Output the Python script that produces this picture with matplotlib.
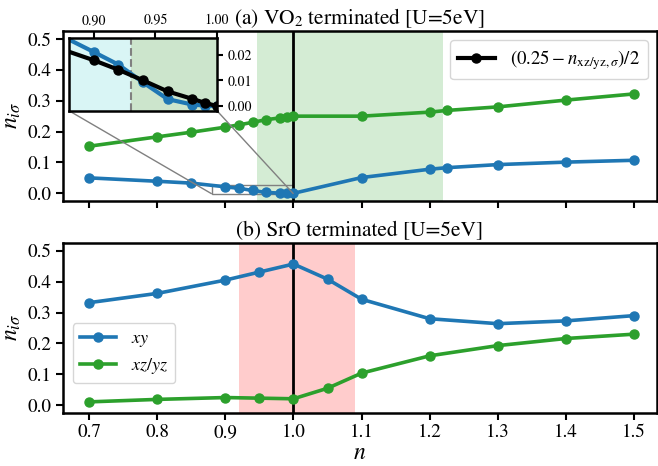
import numpy as np
import matplotlib
matplotlib.use("Agg")
import matplotlib.pyplot as plt
from matplotlib.ticker import FormatStrFormatter
from mpl_toolkits.axes_grid1.inset_locator import mark_inset

plt.rcParams['font.family'] = 'STIXGeneral'
plt.rcParams['mathtext.fontset'] = 'stix'

BLUE = "#1f77b4"
GREEN = "#2ca02c"

# (a) VO2 terminated
n_vo2 = [0.7, 0.8, 0.85, 0.9, 0.92, 0.94, 0.96, 0.98, 0.99, 1.0,
         1.1, 1.2, 1.225, 1.3, 1.4, 1.5]
xy_vo2 = [0.050, 0.039, 0.033, 0.0210, 0.0161, 0.0092, 0.0027, 0.0006, 0.0002, 0.0,
          0.051, 0.078, 0.083, 0.093, 0.101, 0.107]
xz_vo2 = [0.1526, 0.183, 0.198, 0.2144, 0.2218, 0.230, 0.2386, 0.2444, 0.2474, 0.250,
          0.250, 0.263, 0.2685, 0.280, 0.302, 0.322]

# (b) SrO terminated
n_sro = [0.7, 0.8, 0.9, 0.95, 1.0, 1.05, 1.1, 1.2, 1.3, 1.4, 1.5]
xy_sro = [0.332, 0.362, 0.405, 0.431, 0.457, 0.408, 0.343, 0.280, 0.264, 0.273, 0.290]
xz_sro = [0.011, 0.019, 0.025, 0.023, 0.021, 0.055, 0.104, 0.160, 0.193, 0.216, 0.230]

xticks = [0.7, 0.8, 0.9, 1.0, 1.1, 1.2, 1.3, 1.4, 1.5]
yticks = [0.0, 0.1, 0.2, 0.3, 0.4, 0.5]

# (0.25 - n_xz)/2 as in the legend
half_diff = (0.25 - np.array(xz_vo2)) / 2

lw = 2.6
ms = 6.5

fig = plt.figure(figsize=(6.58, 4.66), dpi=100)
ax1 = fig.add_axes([0.0953, 0.5693, 0.9032, 0.3642])
ax2 = fig.add_axes([0.0953, 0.1144, 0.9032, 0.3648])

for ax in (ax1, ax2):
    ax.axvline(1.0, color='k', lw=2, zorder=2)
    ax.set_xlim(0.661, 1.534)
    ax.set_ylim(-0.024, 0.526)
    ax.set_xticks(xticks)
    ax.set_yticks(yticks)
    ax.yaxis.set_major_formatter(FormatStrFormatter('%.1f'))
    ax.tick_params(labelsize=13.7, width=1.5, length=5, pad=3)
    for s in ax.spines.values():
        s.set_linewidth(1.8)
    ax.set_ylabel(r'$n_{i\sigma}$', fontsize=17, labelpad=3)

ax1.set_xticklabels([])
ax2.xaxis.set_major_formatter(FormatStrFormatter('%.1f'))
ax2.set_xlabel(r'$n$', fontsize=17, labelpad=1)

# top panel
ax1.axvspan(0.947, 1.22, color=GREEN, alpha=0.2, lw=0, zorder=0)
ax1.plot(n_vo2, xy_vo2, '-o', color=BLUE, lw=lw, ms=ms, zorder=3)
ax1.plot(n_vo2, xz_vo2, '-o', color=GREEN, lw=lw, ms=ms, zorder=3)
ax1.set_title('(a) VO$_2$ terminated [U=5eV]', fontsize=15.4, pad=5, y=1.0)

axins = ax1.inset_axes([0.0106, 0.530, 0.249, 0.430])
axins.axvspan(0.88, 0.93, color='c', alpha=0.15, lw=0)
axins.axvspan(0.93, 1.0, color='g', alpha=0.2, lw=0)
axins.axvline(0.93, color='gray', ls='--', lw=1.5)
axins.plot(n_vo2, xy_vo2, '-o', color=BLUE, lw=3, ms=ms)
blk, = axins.plot(n_vo2, half_diff, '-o', color='k', lw=3, ms=ms)
axins.set_xlim(0.88, 1.0)
axins.set_ylim(-0.0018, 0.0265)
axins.set_xticks([0.90, 0.95, 1.00])
axins.set_yticks([0.00, 0.01, 0.02])
axins.xaxis.set_major_formatter(FormatStrFormatter('%.2f'))
axins.yaxis.set_major_formatter(FormatStrFormatter('%.2f'))
axins.xaxis.tick_top()
axins.yaxis.tick_right()
axins.tick_params(labelsize=10, width=1.5, length=4)
for s in axins.spines.values():
    s.set_linewidth(1.8)
mark_inset(ax1, axins, loc1=3, loc2=4, fc='none', ec='0.5', lw=1)

ax1.legend([blk], [r'$(0.25-n_{\mathrm{xz/yz},\sigma})/2$'], loc='upper right',
           fontsize=13.5, handlelength=2.0)

# bottom panel
ax2.axvspan(0.92, 1.09, color='red', alpha=0.2, lw=0, zorder=0)
ax2.plot(n_sro, xy_sro, '-o', color=BLUE, lw=lw, ms=ms, zorder=3, label=r'$xy$')
ax2.plot(n_sro, xz_sro, '-o', color=GREEN, lw=lw, ms=ms, zorder=3, label=r'$xz/yz$')
ax2.set_title('(b) SrO terminated [U=5eV]', fontsize=15.4, pad=5)
ax2.legend(loc='lower left', bbox_to_anchor=(0.017, 0.173), borderaxespad=0,
           fontsize=13, handlelength=2.0, labelspacing=0.4)

fig.savefig('out.png', dpi=100)
